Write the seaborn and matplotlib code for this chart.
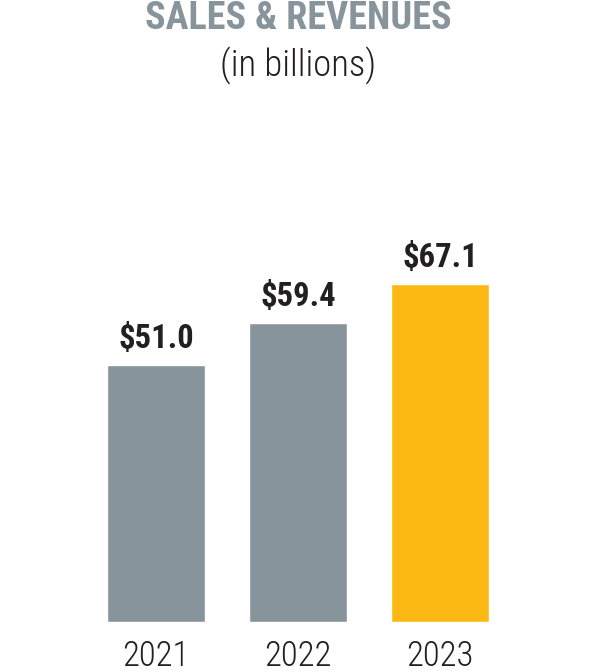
import matplotlib
matplotlib.use("Agg")
import matplotlib.pyplot as plt
import seaborn as sns
import pandas as pd

years = ["2021", "2022", "2023"]
values = [51.0, 59.4, 67.1]
labels = ["$51.0", "$59.4", "$67.1"]
colors = ["#87949C", "#87949C", "#FDB913"]

sns.set_theme(style="white")
FAM = ["Roboto Condensed", "Liberation Sans Narrow", "Roboto", "DejaVu Sans"]
plt.rcParams["font.family"] = FAM

df = pd.DataFrame({"year": years, "value": values})

fig = plt.figure(figsize=(5.96, 6.72), dpi=100)
ax = fig.add_axes([0, 50 / 672, 1, 622 / 672])
sns.barplot(data=df, x="year", y="value", hue="year", palette=colors,
            width=0.69, legend=False, ax=ax, saturation=1)
ax.set_xlim(-156 / 142, (596 - 156) / 142)
ax.set_ylim(0, 622 / 5.04)
for s in ax.spines.values():
    s.set_visible(False)
ax.set_yticks([])
ax.set_xlabel("")
ax.set_ylabel("")
ax.tick_params(axis="x", length=0, pad=32, labelsize=25, labelcolor="#231F20")
for t in ax.get_xticklabels():
    t.set_family(FAM)
    t.set_fontweight("light")
    t.set_va("baseline")

for cont, lab in zip(ax.containers, labels):
    ax.bar_label(cont, labels=[lab], padding=7, fontsize=23.5,
                 fontweight="black", color="#231F20", family=FAM)

fig.text(0.5, 1 - 29 / 672, "SALES & REVENUES", ha="center", va="baseline",
         fontsize=27.5, fontweight="black", color="#87949C", family=FAM)
fig.text(0.5, 1 - 76 / 672, "(in billions)", ha="center", va="baseline",
         fontsize=26.5, fontweight="light", color="#231F20", family=FAM)

fig.savefig("out.png", dpi=100)
